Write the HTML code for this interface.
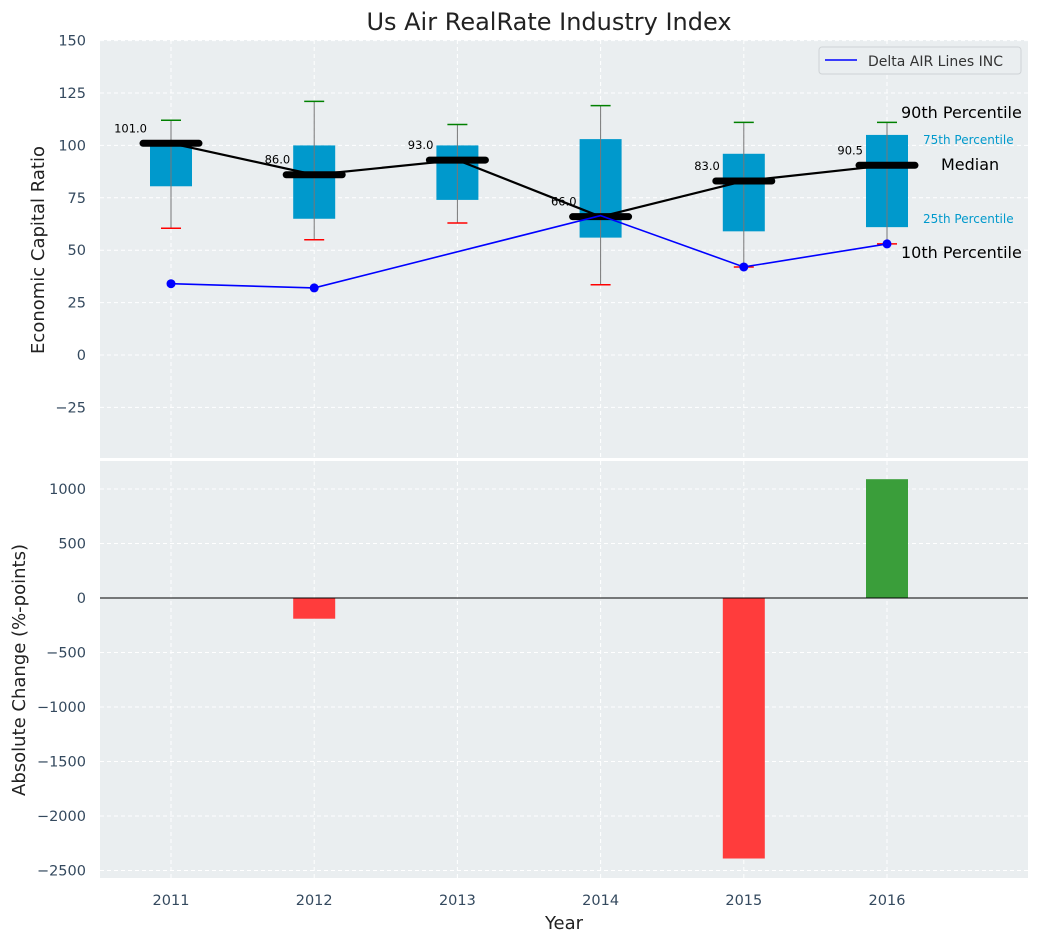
<!DOCTYPE html>
<html><head><meta charset="utf-8"><style>
body{margin:0;background:#fff;font-family:"Liberation Sans","DejaVu Sans",sans-serif}
svg text{font-family:"DejaVu Sans","Liberation Sans",sans-serif}
</style></head><body>
<svg id="c" width="1039" height="942" xmlns="http://www.w3.org/2000/svg"></svg>
<script>
const years=[2011,2012,2013,2014,2015,2016];
const p10=[60.5,55,63,33.5,42,53];
const p25=[80.5,65,74,56,59,61];
const medians=[101,86,93,66,83,90.5];
const p75=[101,100,100,103,96,105];
const p90=[112,121,110,119,111,111];
const delta=[34,32,null,66.5,42,53];
const changes=[0,-190,0,0,-2390,1090];
const topTicks=[150,125,100,75,50,25,0,-25];
const botTicks=[1000,500,0,-500,-1000,-1500,-2000,-2500];

const svg=document.getElementById('c');const NS='http://www.w3.org/2000/svg';
function el(t,a,txt){const e=document.createElementNS(NS,t);for(const k in a)e.setAttribute(k,a[k]);if(txt!==undefined)e.textContent=txt;svg.appendChild(e);return e;}
const L=100,R=1028;
const x=v=>171+(v-2011)*143.2;
const yT=v=>355-v*2.096;
const yB=v=>598-v*0.109;
let e=el('rect',{x:L,y:40,width:R-L,height:418,fill:'#eaeef0'});
e=el('rect',{x:L,y:461,width:R-L,height:417,fill:'#eaeef0'});
years.forEach(yr=>{el('line',{x1:x(yr),x2:x(yr),y1:40,y2:458,stroke:'#fff','stroke-dasharray':'4,3'});el('line',{x1:x(yr),x2:x(yr),y1:461,y2:878,stroke:'#fff','stroke-dasharray':'4,3'});
 e=el('text',{x:x(yr),y:905,'text-anchor':'middle','font-size':14.5,fill:'#34495e'},yr);});
topTicks.forEach(t=>{el('line',{x1:L,x2:R,y1:yT(t),y2:yT(t),stroke:'#fff','stroke-dasharray':'4,3'});
 e=el('text',{x:86,y:yT(t)+5,'text-anchor':'end','font-size':14.5,fill:'#34495e'},t<0?'\u2212'+(-t):t);});
botTicks.forEach(t=>{el('line',{x1:L,x2:R,y1:yB(t),y2:yB(t),stroke:'#fff','stroke-dasharray':'4,3'});
 e=el('text',{x:86,y:yB(t)+5,'text-anchor':'end','font-size':14.5,fill:'#34495e'},t<0?'\u2212'+(-t):t);});
years.forEach((yr,i)=>{const cx=x(yr);
 e=el('rect',{x:cx-21,y:yT(p75[i]),width:42,height:yT(p25[i])-yT(p75[i]),fill:'#0099cc'});
 el('line',{x1:cx,x2:cx,y1:yT(p90[i]),y2:yT(p10[i]),stroke:'#777','stroke-width':1});
 el('line',{x1:cx-10,x2:cx+10,y1:yT(p90[i]),y2:yT(p90[i]),stroke:'green','stroke-width':1.5});
 el('line',{x1:cx-10,x2:cx+10,y1:yT(p10[i]),y2:yT(p10[i]),stroke:'red','stroke-width':1.5});
});
el('polyline',{points:years.map((yr,i)=>x(yr)+','+yT(medians[i])).join(' '),fill:'none',stroke:'#000','stroke-width':2.2});
years.forEach((yr,i)=>{const cx=x(yr);
 e=el('line',{x1:cx-28,x2:cx+28,y1:yT(medians[i]),y2:yT(medians[i]),stroke:'#000','stroke-width':7,'stroke-linecap':'round'});
 e=el('text',{x:cx-24,y:yT(medians[i])-11,'text-anchor':'end','font-size':11.5,fill:'#000'},medians[i].toFixed(1));});
const pts=[];years.forEach((yr,i)=>{if(delta[i]!==null)pts.push([x(yr),yT(delta[i]),i]);});
e=el('polyline',{points:pts.map(p=>p[0]+','+p[1]).join(' '),fill:'none',stroke:'blue','stroke-width':1.6});
pts.forEach(p=>{if(years[p[2]]!==2014){e=el('circle',{cx:p[0],cy:p[1],r:4.5,fill:'blue'});}});
const ann=[['90th Percentile',901,118,16,'#000'],['75th Percentile',923,144,12,'#0099cc'],['Median',941,170,16,'#000'],['25th Percentile',923,223,12,'#0099cc'],['10th Percentile',901,258,16,'#000']];
ann.forEach(a=>{e=el('text',{x:a[1],y:a[2],'font-size':a[3],fill:a[4]},a[0]);});
e=el('rect',{x:819,y:47,width:202,height:27,rx:3,fill:'#eaeef0',stroke:'#cfd3d6'});
el('line',{x1:825,x2:857,y1:60,y2:60,stroke:'blue','stroke-width':1.6});
el('text',{x:868,y:66,'font-size':14,fill:'#333'},'Delta AIR Lines INC');
years.forEach((yr,i)=>{if(!changes[i])return;const v=changes[i];
 e=el('rect',{x:x(yr)-21,y:Math.min(yB(0),yB(v)),width:42,height:Math.abs(yB(v)-yB(0)),fill:v<0?'#ff3c3c':'#3a9e3a'});});
el('line',{x1:L,x2:R,y1:yB(0),y2:yB(0),stroke:'#000','stroke-width':1});
e=el('text',{x:549,y:30,'text-anchor':'middle','font-size':24,fill:'#222'},'Us Air RealRate Industry Index');
e=el('text',{x:0,y:0,'text-anchor':'middle','font-size':18,fill:'#222',transform:'translate(44,250) rotate(-90)'},'Economic Capital Ratio');
e=el('text',{x:0,y:0,'text-anchor':'middle','font-size':18,fill:'#222',transform:'translate(25,670) rotate(-90)'},'Absolute Change (%-points)');
e=el('text',{x:564,y:929,'text-anchor':'middle','font-size':18,fill:'#222'},'Year');
</script>
</body></html>
